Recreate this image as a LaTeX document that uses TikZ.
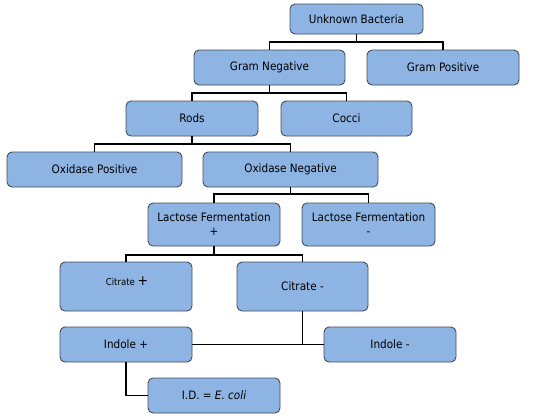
\documentclass[tikz,border=0pt]{standalone}
\usepackage{fontspec}
\setmainfont[FakeStretch=0.9]{DejaVu Sans}
\definecolor{boxfill}{RGB}{142,180,227}
\definecolor{boxline}{RGB}{70,76,86}
\begin{document}
\begin{tikzpicture}[x=1pt,y=-1pt,
  box/.style={draw=boxline,line width=0.9pt,fill=boxfill,rounded corners=5pt,inner sep=0pt,
    align=center,font=\fontsize{11.6}{14}\selectfont},
  conn/.style={line width=1.5pt,black}]
\useasboundingbox (0,0) rectangle (545,418);
\node[box,minimum width=133pt,minimum height=30pt] (ub) at (356.5,19) {Unknown Bacteria};
\node[box,minimum width=151pt,minimum height=35pt] (gn) at (269.5,67.5) {Gram Negative};
\node[box,minimum width=152pt,minimum height=35pt] (gp) at (443,67.5) {Gram Positive};
\node[box,minimum width=132pt,minimum height=35pt] (rods) at (192,118.5) {Rods};
\node[box,minimum width=131pt,minimum height=35pt] (cocci) at (346.5,118.5) {Cocci};
\node[box,minimum width=175pt,minimum height=35pt] (op) at (94.5,169.5) {Oxidase Positive};
\node[box,minimum width=175pt,minimum height=35pt] (on) at (290.5,169.5) {Oxidase Negative};
\node[box,minimum width=132pt,minimum height=43pt] (lfp) at (214,224.5) {Lactose Fermentation\\+};
\node[box,minimum width=133pt,minimum height=43pt] (lfm) at (368.5,224.5) {Lactose Fermentation\\-};
\node[box,minimum width=132pt,minimum height=49pt] (cp) at (126,286.5) {};
\node[font=\fontsize{9.5}{11}\selectfont,inner sep=0pt] (cpt) at (127,281) {Citrate \fontsize{14}{14}\selectfont +};
\node[box,minimum width=131pt,minimum height=49pt] (cm) at (302.5,286.5) {Citrate -};
\node[box,minimum width=132pt,minimum height=35pt] (ip) at (126,344.5) {Indole +};
\node[box,minimum width=132pt,minimum height=35pt] (im) at (390,344.5) {Indole -};
\node[box,minimum width=132pt,minimum height=35pt] (id) at (214,395.5) {I.D. = \textit{E. coli}};
% connectors
\coordinate (j1) at (356.5,42);
\draw[conn] (ub.south) -- (j1) -| (gn.north);
\draw[conn] (j1) -| (gp.north);
\coordinate (j2) at (269.5,93);
\draw[conn] (gn.south) -- (j2) -| (rods.north);
\draw[conn] (j2) -| (cocci.north);
\coordinate (j3) at (192,144);
\draw[conn] (rods.south) -- (j3) -| (op.north);
\draw[conn] (j3) -| (on.north);
\coordinate (j4) at (290.5,194);
\draw[conn] (on.south) -- (j4) -| (lfp.north);
\draw[conn] (j4) -| (lfm.north);
\coordinate (j5) at (214,255);
\draw[conn] (lfp.south) -- (j5) -| (cp.north);
\draw[conn] (j5) -| (cm.north);
\coordinate (j6) at (302.5,344.5);
\draw[conn] (cm.south) -- (j6);
\draw[conn] (ip.east) -- (im.west);
\draw[conn] (ip.south) |- (id.west);
\end{tikzpicture}
\end{document}
